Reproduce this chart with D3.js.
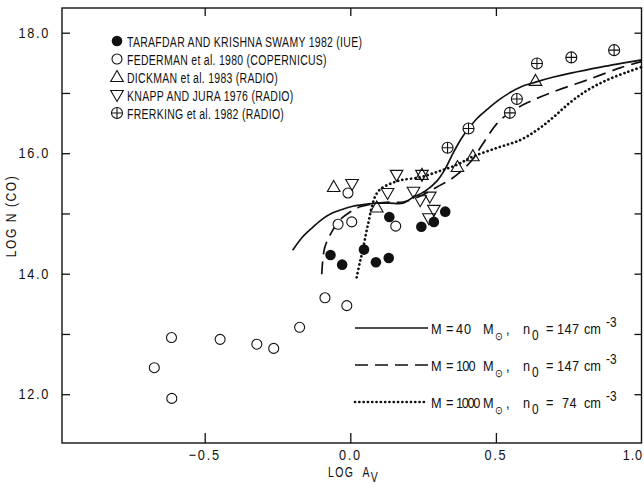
<!DOCTYPE html>
<html>
<head>
<meta charset="utf-8">
<script src="https://cdn.jsdelivr.net/npm/d3@7"></script>
<style>
  html, body { margin: 0; padding: 0; background: #fff; }
  svg text { font-family: "Liberation Sans", Arial, sans-serif; fill: #111; white-space: pre; }
</style>
</head>
<body>
<svg id="chart" width="644" height="491"></svg>
<script>
// Observations: [log A_V, log N(CO)]
const tarafdar = [[-0.068,14.31],[-0.028,14.15],[0.047,14.40],[0.088,14.19],[0.132,14.26],
                  [0.134,14.94],[0.244,14.78],[0.287,14.86],[0.326,15.03]];
const federman = [[-0.673,12.44],[-0.614,12.94],[-0.613,11.93],[-0.447,12.91],[-0.321,12.83],
                  [-0.263,12.76],[-0.174,13.11],[-0.087,13.60],[-0.012,13.47],[-0.008,15.34],
                  [-0.042,14.82],[0.005,14.86],[0.156,14.79]];
const dickman = [[-0.057,15.44],[0.091,15.10],[0.246,15.64],[0.368,15.77],[0.421,15.95],[0.636,17.20]];
const knapp = [[0.006,15.49],[0.159,15.64],[0.128,15.34],[0.217,15.36],[0.240,15.22],
               [0.273,15.28],[0.287,15.06],[0.270,14.92],[0.246,15.64]];
const frerking = [[0.334,16.09],[0.406,16.41],[0.548,16.67],[0.572,16.90],[0.641,17.49],
                  [0.759,17.59],[0.906,17.71]];

// Model curves
const model40 = [[-0.198,14.39],[-0.164,14.61],[-0.129,14.77],[-0.095,14.91],[-0.060,15.01],
  [-0.026,15.07],[0.009,15.12],[0.050,15.15],[0.091,15.17],[0.136,15.17],[0.181,15.17],
  [0.216,15.27],[0.257,15.37],[0.298,15.54],[0.326,15.74],[0.353,16.00],[0.381,16.24],
  [0.405,16.40],[0.436,16.58],[0.471,16.73],[0.509,16.88],[0.550,17.01],[0.591,17.11],
  [0.636,17.18],[0.695,17.26],[0.757,17.33],[0.860,17.43],[1.0,17.55]];
const model100 = [[-0.098,13.99],[-0.088,14.43],[-0.064,14.69],[-0.036,14.89],[-0.002,15.02],
  [0.033,15.11],[0.091,15.17],[0.136,15.19],[0.181,15.19],[0.250,15.31],[0.298,15.44],
  [0.340,15.55],[0.378,15.69],[0.419,15.89],[0.453,16.14],[0.505,16.50],[0.547,16.67],
  [0.609,16.84],[0.698,17.02],[0.816,17.22],[0.929,17.42],[1.0,17.52]];
const model1000 = [[0.022,13.94],[0.033,14.19],[0.043,14.39],[0.053,14.64],[0.064,14.89],
  [0.074,15.11],[0.088,15.31],[0.105,15.41],[0.136,15.49],[0.171,15.55],[0.240,15.60],
  [0.298,15.69],[0.367,15.81],[0.419,15.94],[0.505,16.09],[0.584,16.22],[0.643,16.39],
  [0.698,16.60],[0.757,16.85],[0.816,17.05],[0.884,17.22],[0.953,17.35],[1.0,17.43]];

// Axis ticks and labels
const xTicks = [-0.5, 0.0, 0.5, 1.0];
const xTopTicks = [-0.5, 0.0, 0.5];
const yTicks = [12, 13, 14, 15, 16, 17, 18];
const yLabelled = [12, 14, 16, 18];

const seriesNames = [
  "TARAFDAR AND KRISHNA SWAMY 1982 (IUE)",
  "FEDERMAN et al. 1980 (COPERNICUS)",
  "DICKMAN et al. 1983 (RADIO)",
  "KNAPP AND JURA 1976 (RADIO)",
  "FRERKING et al. 1982 (RADIO)"
];
const modelMass = ["40", "100", "1000"];
const modelDensity = ["147", "147", "74"];

const svg = d3.select("#chart");
const L = 62, R = 641.5, T = 8, B = 443;
const x = d3.scaleLinear().domain([-0.99, 1.0]).range([L, R]);
const y = d3.scaleLinear().domain([11.19, 18.41]).range([B, T]);

// condensed lettering: regular face squeezed horizontally
const SQUEEZE = 0.7;

// frame
svg.append("rect").attr("x", L).attr("y", T).attr("width", R - L).attr("height", B - T)
  .attr("fill", "none").attr("stroke", "#111").attr("stroke-width", 1.4);

// axes with inward ticks
const fmt = d3.format(".1f");
svg.append("g").attr("transform", `translate(0,${B})`)
  .call(d3.axisBottom(x).tickValues(xTicks.filter(v => v < 1)).tickSize(-10).tickFormat(""))
  .call(g => g.select(".domain").remove());
svg.append("g").attr("transform", `translate(0,${T})`)
  .call(d3.axisTop(x).tickValues(xTopTicks).tickSize(-8).tickFormat(""))
  .call(g => g.select(".domain").remove());
svg.append("g").attr("transform", `translate(${L},0)`)
  .call(d3.axisLeft(y).tickValues(yTicks).tickSize(-8).tickFormat(""))
  .call(g => g.select(".domain").remove());
svg.append("g").attr("transform", `translate(${R},0)`)
  .call(d3.axisRight(y).tickValues(yTicks).tickSize(-7).tickFormat(""))
  .call(g => g.select(".domain").remove());
svg.selectAll(".tick line").attr("stroke", "#111").attr("stroke-width", 1.3);

// tick labels
svg.append("g").selectAll("text").data(xTicks).join("text")
  .attr("transform", d => d === 1
    ? `translate(643,${B + 17}) scale(0.85,1)`
    : `translate(${x(d)},${B + 17}) scale(0.85,1)`)
  .attr("text-anchor", d => d === 1 ? "end" : "middle")
  .attr("font-size", 15).attr("letter-spacing", d => d === 1 ? 1 : 2)
  .text(d => fmt(d));
svg.append("g").selectAll("text").data(yLabelled).join("text")
  .attr("transform", d => `translate(${L - 12},${y(d) + 5}) scale(0.85,1)`)
  .attr("text-anchor", "end").attr("font-size", 15).attr("letter-spacing", 2)
  .text(d => fmt(d));

// axis titles
const xt = svg.append("text").attr("transform", `translate(328,477) scale(${SQUEEZE},1)`)
  .attr("font-size", 15).attr("letter-spacing", 2);
xt.append("tspan").text("LOG  A");
xt.append("tspan").attr("dy", 5).text("V");
svg.append("text").attr("transform", "translate(16,216) rotate(-90) scale(0.8,1)")
  .attr("text-anchor", "middle").attr("font-size", 15).attr("letter-spacing", 2)
  .text("LOG N (CO)");

// model curves
const line = d3.line().x(d => x(d[0])).y(d => y(d[1])).curve(d3.curveCatmullRom.alpha(0.5));
const styles = [
  { dash: null, width: 1.7, cap: "butt" },
  { dash: "13,7", width: 1.7, cap: "butt" },
  { dash: "0.1,4.2", width: 2.7, cap: "round" }
];
const plotArea = svg.append("g");
[model40, model100, model1000].forEach((m, i) => {
  plotArea.append("path").attr("d", line(m)).attr("fill", "none").attr("stroke", "#111")
    .attr("stroke-width", styles[i].width).attr("stroke-dasharray", styles[i].dash)
    .attr("stroke-linecap", styles[i].cap);
});

// marker drawing
function drawMarker(g, kind, cx, cy) {
  const s = g.append("g").attr("transform", `translate(${cx},${cy})`);
  if (kind === "filled") {
    s.append("circle").attr("r", 5.3).attr("fill", "#111");
  } else if (kind === "open") {
    s.append("circle").attr("r", 5).attr("fill", "#fff").attr("stroke", "#111").attr("stroke-width", 1.1);
  } else if (kind === "up") {
    s.append("path").attr("d", "M0,-6.5L6.3,4.5L-6.3,4.5Z").attr("fill", "none").attr("stroke", "#111").attr("stroke-width", 1.1);
  } else if (kind === "down") {
    s.append("path").attr("d", "M0,6.5L6.3,-4.5L-6.3,-4.5Z").attr("fill", "none").attr("stroke", "#111").attr("stroke-width", 1.1);
  } else if (kind === "plus") {
    s.append("circle").attr("r", 5.5).attr("fill", "#fff").attr("stroke", "#111").attr("stroke-width", 1.1);
    s.append("path").attr("d", "M-5.5,0H5.5M0,-5.5V5.5").attr("stroke", "#111").attr("stroke-width", 1.1);
  }
}
const seriesList = [
  { data: federman, kind: "open" },
  { data: tarafdar, kind: "filled" },
  { data: dickman, kind: "up" },
  { data: knapp, kind: "down" },
  { data: frerking, kind: "plus" }
];
const marks = svg.append("g");
seriesList.forEach(s => s.data.forEach(d => drawMarker(marks, s.kind, x(d[0]), y(d[1]))));

// series legend
const legendKinds = ["filled", "open", "up", "down", "plus"];
const lg = svg.append("g");
seriesNames.forEach((name, i) => {
  const yy = 41 + i * 18;
  drawMarker(lg, legendKinds[i], 117, yy);
  lg.append("text").attr("transform", `translate(127,${yy + 5.5}) scale(${SQUEEZE},1)`)
    .attr("font-size", 15).attr("letter-spacing", 0.4).text(name);
});

// model legend: pieces placed along each row
const ml = svg.append("g");
modelMass.forEach((mass, i) => {
  const yy = 328 + i * 37;
  ml.append("line").attr("x1", 355).attr("x2", 428).attr("y1", yy).attr("y2", yy)
    .attr("stroke", "#111").attr("stroke-width", styles[i].width)
    .attr("stroke-dasharray", styles[i].dash).attr("stroke-linecap", styles[i].cap);
  const piece = (px, dy, txt, size, family) => {
    const t = ml.append("text").attr("transform", `translate(${px},${yy + 6 + dy}) scale(0.85,1)`)
      .attr("font-size", size || 15).text(txt);
    if (family) t.attr("font-family", family);
    return t;
  };
  piece(431, 0, "M");
  piece(446, 0, "=");
  piece(456, 0, mass).attr("letter-spacing", mass.length >= 4 ? -1.6 : mass.length === 3 ? -1 : 1);
  piece(483, 0, "M");
  piece(495, 6, "\u2299", 11, "DejaVu Sans");
  piece(506, 0, ",");
  piece(523, 0, "n");
  piece(532, 6, "0", 14);
  piece(546, 0, "=");
  piece(i === 2 ? 562 : 557, 0, modelDensity[i]).attr("letter-spacing", 0.5);
  piece(584, 0, "cm");
  piece(606, -7, "-3", 14);
});
</script>
</body>
</html>
